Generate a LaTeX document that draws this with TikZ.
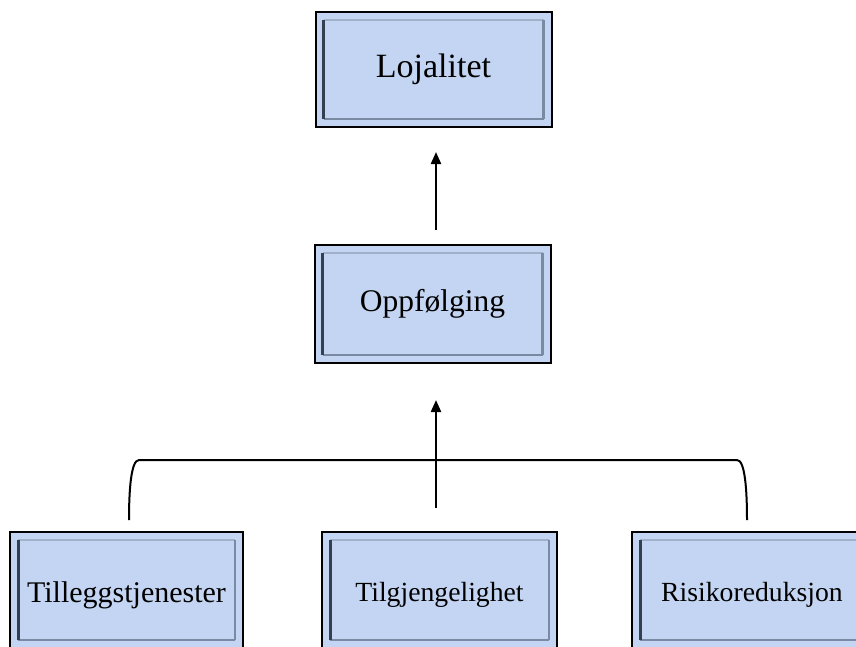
\documentclass[tikz,border=0pt]{standalone}
\usepackage{fontspec}
\setmainfont{Liberation Serif}
\usetikzlibrary{arrows.meta}
\definecolor{boxfill}{RGB}{195,213,242}
\definecolor{bevdark}{RGB}{52,64,80}
\definecolor{bevmid}{RGB}{122,138,162}
\definecolor{bevlight}{RGB}{160,176,200}
\newcommand{\lowertext}[1]{\raisebox{-5pt}[\height][\depth]{#1}}
\tikzset{
  bevelbox/.style={draw=black, line width=2pt, fill=boxfill, inner sep=0pt,
    minimum width=236pt, minimum height=115pt,
    font=\fontsize{30}{36}\selectfont,
    path picture={
      \coordinate (bnw) at ([xshift=8pt,yshift=-8pt]path picture bounding box.north west);
      \coordinate (bse) at ([xshift=-8pt,yshift=8pt]path picture bounding box.south east);
      \draw[bevlight, line width=2pt] (bnw) -- (bnw -| bse);
      \draw[bevmid, line width=2.5pt] (bnw -| bse) -- (bse);
      \draw[bevmid, line width=2pt] (bse) -- (bse -| bnw);
      \draw[bevdark, line width=3pt] (bse -| bnw) -- (bnw);
    }},
  conn/.style={line width=2.3pt, draw=black},
  arr/.style={conn, -{Triangle[length=12pt,width=10pt]}},
  brace/.style={line width=2pt, draw=black}
}
\begin{document}
\begin{tikzpicture}[x=1pt,y=-1pt]
\fill[white] (0,0) rectangle (856,646);
\clip (0,0) rectangle (856,646);
\node[bevelbox, font=\fontsize{34}{40}\selectfont] (loj) at (433.5,69.5) {Lojalitet};
\node[bevelbox, minimum height=118pt, font=\fontsize{31.5}{36}\selectfont] (opp) at (432.5,304) {Oppfølging};
\node[bevelbox, minimum width=233pt, minimum height=116pt] (till) at (126.5,590) {\lowertext{Tilleggstjenester}};
\node[bevelbox, minimum width=235pt, minimum height=116pt, font=\fontsize{27.7}{33}\selectfont] (tilg) at (439.5,590) {\lowertext{Tilgjengelighet}};
\node[bevelbox, minimum width=240pt, minimum height=116pt, font=\fontsize{27.7}{33}\selectfont] (risk) at (752,590) {\lowertext{Risikoreduksjon}};
% arrow Oppfølging -> Lojalitet
\coordinate (a1s) at (436,230);
\coordinate (a1e) at (436,152);
\draw[arr] (a1s) -- (a1e);
% brace and arrow to Oppfølging
\coordinate (bl) at (129,520);
\coordinate (br) at (747,520);
\coordinate (bm) at (436,508);
\coordinate (a2e) at (436,400);
\draw[brace] (bl) .. controls (129,490) and (131,460) .. (139,460) -- (737,460) .. controls (745,460) and (747,490) .. (br);
\draw[arr] (bm) -- (a2e);
\end{tikzpicture}
\end{document}
